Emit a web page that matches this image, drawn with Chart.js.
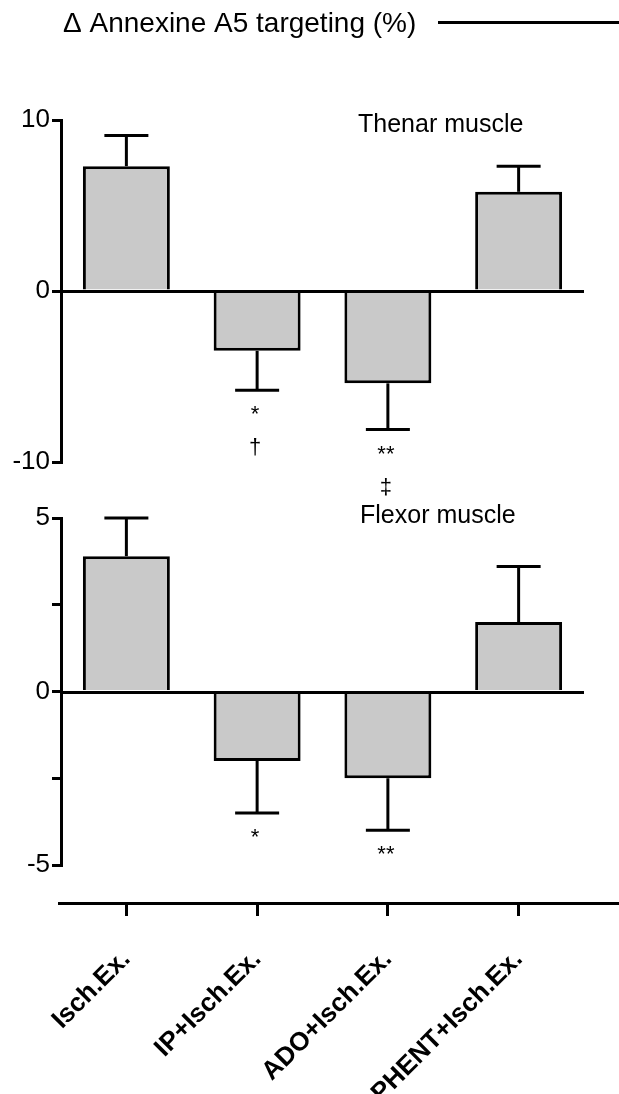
<!DOCTYPE html>
<html>
<head>
<meta charset="utf-8">
<title>Annexine A5 targeting</title>
<script src="https://cdn.jsdelivr.net/npm/chart.js@4.4.1/dist/chart.umd.min.js"></script>
<style>
  body { margin: 0; background: #fff; }
  canvas { display: block; }
</style>
</head>
<body>
<canvas id="myChart" width="619" height="1094"></canvas>
<script>
// datos
var groups = ['Isch.Ex.', 'IP+Isch.Ex.', 'ADO+Isch.Ex.', 'PHENT+Isch.Ex.'];

// Thenar muscle
var thenarMean = [7.3, -3.5, -5.4, 5.8];
var thenarSem = [1.8, 2.3, 2.7, 1.5];
var thenarSig = ['', '*', '**', ''];
var thenarSig2 = ['', '†', '‡', ''];

// Flexor muscle
var flexorMean = [3.9, -2.0, -2.5, 2.0];
var flexorSem = [1.1, 1.5, 1.5, 1.6];
var flexorSig = ['', '*', '**', ''];
var flexorSig2 = ['', '', '', ''];

// ticks con numero
var thenarTicks = [-10, 0, 10];
var flexorTicks = [-5, 0, 5];

var FONT = '"Liberation Sans", Arial, sans-serif';

function line(ctx, x1, y1, x2, y2, w) {
    ctx.beginPath();
    ctx.lineWidth = w;
    ctx.strokeStyle = '#000';
    ctx.moveTo(x1, y1);
    ctx.lineTo(x2, y2);
    ctx.stroke();
}

var extras = {
    id: 'extras',
    afterDatasetsDraw: function (chart) {
        var ctx = chart.ctx;
        var a = chart.chartArea;

        // linea del cero en cada panel (encima de la base de las barras)
        ['yThenar', 'yFlexor'].forEach(function (id) {
            var y0 = Math.round(chart.scales[id].getPixelForValue(0)) + 0.5;
            line(ctx, a.left, y0, a.right, y0, 3);
        });

        // barras de error + asteriscos
        chart.data.datasets.forEach(function (ds, i) {
            var meta = chart.getDatasetMeta(i);
            var ys = chart.scales[ds.yAxisID];
            meta.data.forEach(function (bar, j) {
                var v = ds.data[j];
                var tip = v >= 0 ? v + ds.errors[j] : v - ds.errors[j];
                var yTip = ys.getPixelForValue(tip);
                line(ctx, bar.x, bar.y, bar.x, yTip, 3);
                line(ctx, bar.x - 22, yTip, bar.x + 22, yTip, 3);

                ctx.fillStyle = '#000';
                ctx.textAlign = 'center';
                ctx.textBaseline = 'alphabetic';
                ctx.font = '22px ' + FONT;
                if (ds.sig[j]) ctx.fillText(ds.sig[j], bar.x - 2, yTip + 31);
                if (ds.sig2[j]) ctx.fillText(ds.sig2[j], bar.x - 2, yTip + 64);
            });
        });
    },
    afterDraw: function (chart) {
        var ctx = chart.ctx;
        var a = chart.chartArea;
        var xs = chart.scales.x;

        // titulo arriba
        ctx.fillStyle = '#000';
        ctx.textAlign = 'left';
        ctx.textBaseline = 'alphabetic';
        ctx.font = '28px ' + FONT;
        ctx.fillText('\u0394 Annexine A5 targeting (%)', 63, 32);
        line(ctx, 438, 22.5, chart.width, 22.5, 3);

        // nombres de los paneles
        ctx.font = '25px ' + FONT;
        ctx.fillText('Thenar muscle', a.left + 297, chart.scales.yThenar.top + 12);
        ctx.fillText('Flexor muscle', a.left + 299, chart.scales.yFlexor.top + 5);

        // el eje x sigue hasta el borde
        var yb = Math.round(xs.top) + 0.5;
        line(ctx, a.right, yb, chart.width, yb, 3);
        line(ctx, a.left - 3, yb, a.left, yb, 3);
    }
};

function yPanel(min, max, step, labelled, weight, stackWeight) {
    return {
        type: 'linear',
        axis: 'y',
        position: 'left',
        stack: 'panels',
        stackWeight: stackWeight,
        weight: weight,
        min: min,
        max: max,
        afterFit: function (scale) { scale.width = 48; },
        border: { display: true, color: '#000', width: 3 },
        grid: { display: true, drawOnChartArea: false, drawTicks: true, tickLength: 9, color: '#000', tickColor: '#000', lineWidth: 3, tickWidth: 3 },
        ticks: {
            stepSize: step,
            padding: 2,
            color: '#000',
            font: { family: FONT, size: 26 },
            callback: function (value) {
                return labelled.indexOf(value) >= 0 ? String(value) : '';
            }
        }
    };
}

function ySpacer(weight, stackWeight) {
    return {
        type: 'linear',
        axis: 'y',
        position: 'left',
        stack: 'panels',
        stackWeight: stackWeight,
        weight: weight,
        display: false
    };
}

var ctx = document.getElementById('myChart').getContext('2d');

var chart = new Chart(ctx, {
    type: 'bar',
    data: {
        labels: groups,
        datasets: [{
            label: 'Thenar muscle',
            yAxisID: 'yThenar',
            data: thenarMean,
            errors: thenarSem,
            sig: thenarSig,
            sig2: thenarSig2,
            backgroundColor: '#c9c9c9',
            borderColor: '#000',
            borderWidth: 3,
            borderSkipped: 'start',
            grouped: false,
            barPercentage: 0.665,
            categoryPercentage: 1
        }, {
            label: 'Flexor muscle',
            yAxisID: 'yFlexor',
            data: flexorMean,
            errors: flexorSem,
            sig: flexorSig,
            sig2: flexorSig2,
            backgroundColor: '#c9c9c9',
            borderColor: '#000',
            borderWidth: 3,
            borderSkipped: 'start',
            grouped: false,
            barPercentage: 0.665,
            categoryPercentage: 1
        }]
    },
    options: {
        responsive: false,
        animation: false,
        devicePixelRatio: 1,
        layout: { padding: { top: 120, left: 13, right: 35, bottom: 0 } },
        plugins: {
            legend: { display: false },
            tooltip: { enabled: false },
            title: { display: false }
        },
        scales: {
            x: {
                type: 'category',
                offset: true,
                afterFit: function (scale) { scale.height = 191; },
                border: { display: true, color: '#000', width: 3 },
                grid: { display: true, offset: false, drawOnChartArea: false, drawTicks: true, tickLength: 13, color: '#000', tickColor: '#000', lineWidth: 3, tickWidth: 3 },
                ticks: {
                    autoSkip: false,
                    minRotation: 45,
                    maxRotation: 45,
                    padding: 28,
                    color: '#000',
                    font: { family: FONT, size: 26, weight: 'bold' }
                }
            },
            yThenar: yPanel(-10, 10, 10, thenarTicks, 4, 342),
            yGap1: ySpacer(3, 56),
            yFlexor: yPanel(-5, 5, 2.5, flexorTicks, 2, 347),
            yGap2: ySpacer(1, 38)
        }
    },
    plugins: [extras]
});
</script>
</body>
</html>
